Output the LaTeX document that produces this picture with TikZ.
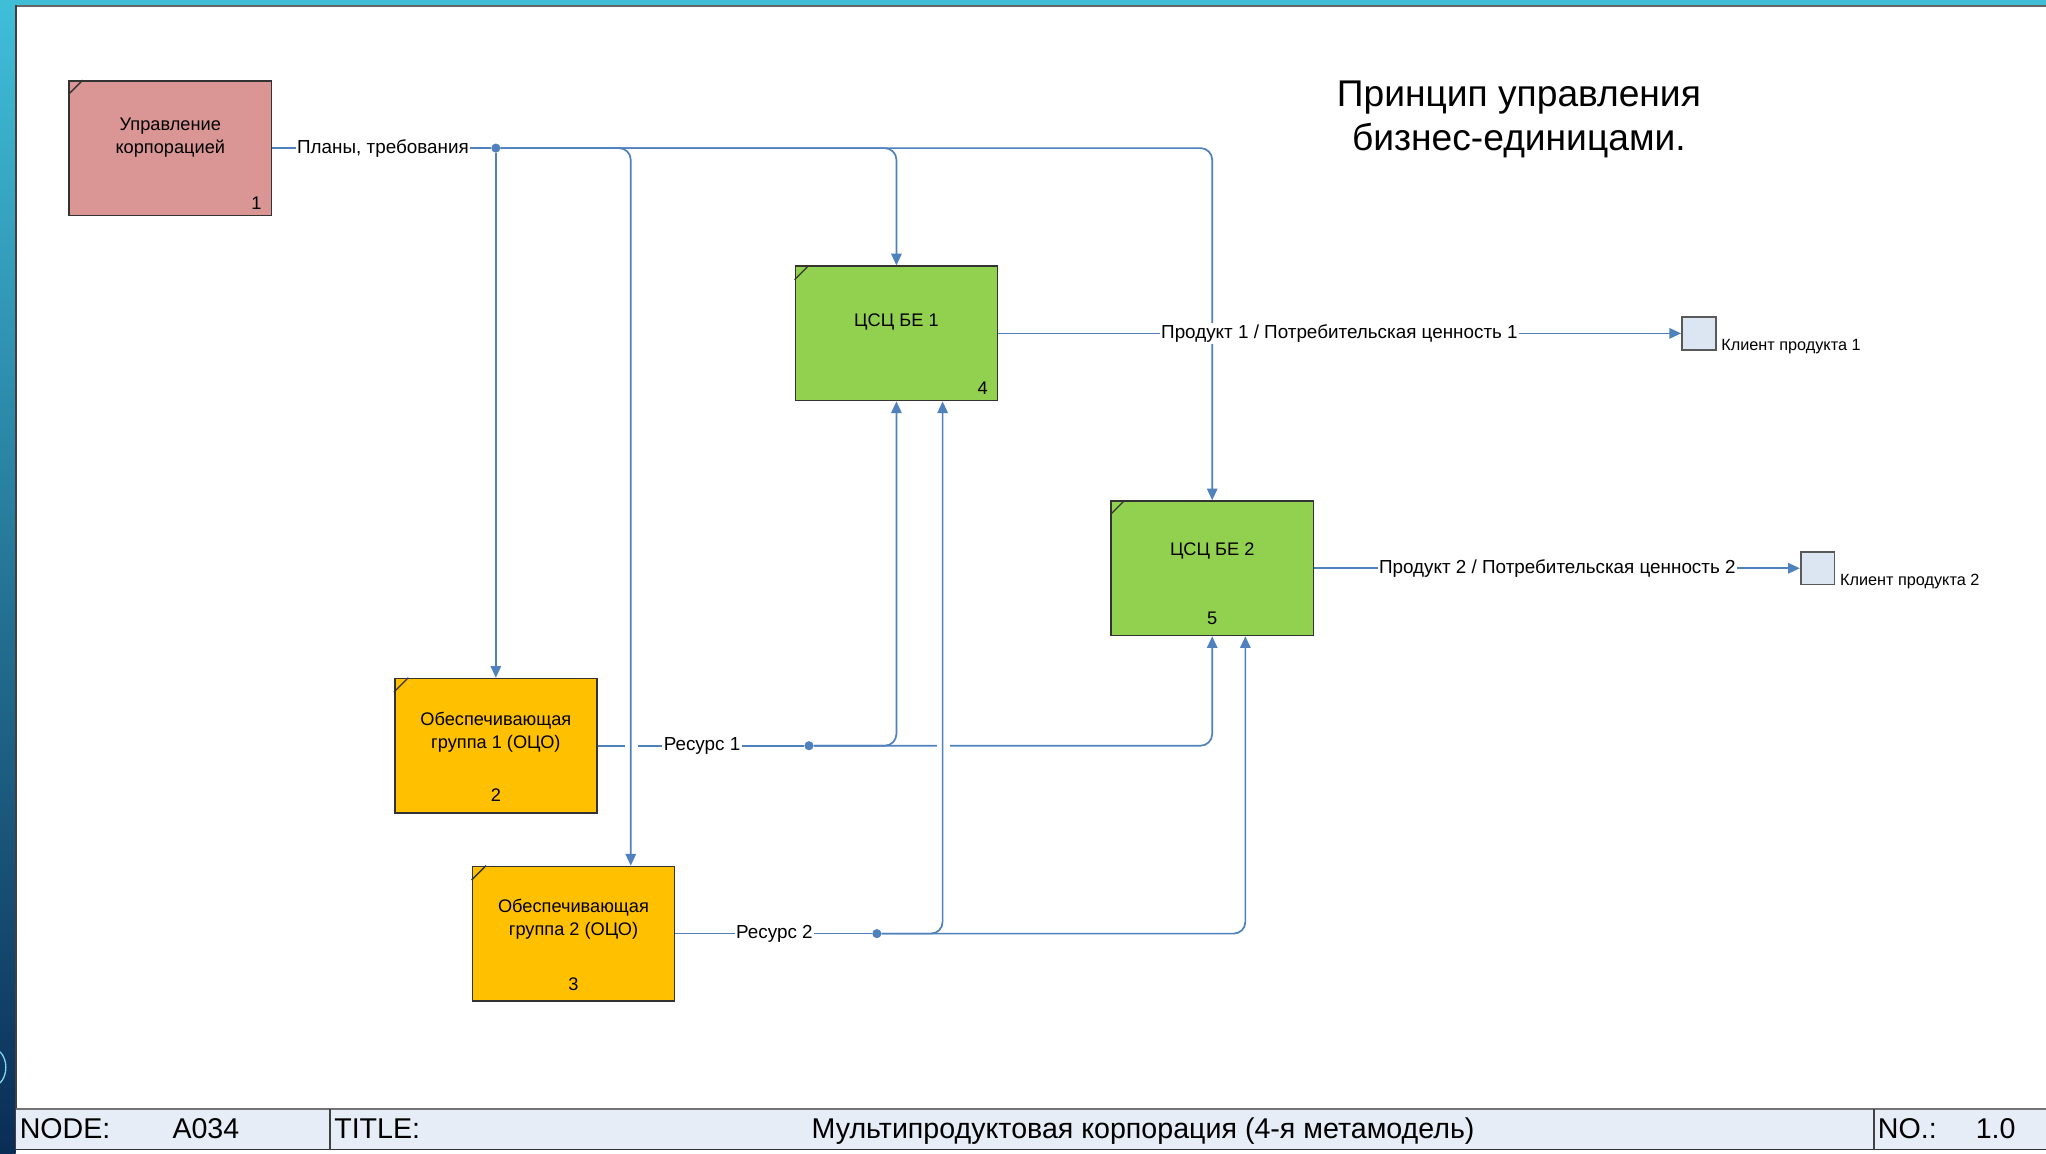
\documentclass[tikz,border=0pt]{standalone}
\usepackage{fontspec}
\setmainfont{Liberation Sans}
\usetikzlibrary{arrows.meta,calc}
\definecolor{flowblue}{RGB}{79,129,189}
\definecolor{mgmt}{RGB}{217,150,148}
\definecolor{bgreen}{RGB}{146,208,80}
\definecolor{borange}{RGB}{255,192,0}
\definecolor{clientfill}{RGB}{220,230,242}
\definecolor{footfill}{RGB}{230,237,247}
\definecolor{slidecyan}{RGB}{64,190,216}
\definecolor{slidenavy}{RGB}{10,45,85}
\begin{document}
\begin{tikzpicture}[x=1bp,y=-1bp,
  boxbase/.style={draw=black!80, line width=1.2bp, minimum width=155bp, minimum height=103bp, inner sep=0pt},
  btext/.style={align=center, font=\fontsize{14}{18}\selectfont, inner sep=0pt},
  numf/.style={font=\fontsize{14}{16}\selectfont, inner sep=0pt},
  flow/.style={draw=flowblue, line width=1.3bp, rounded corners=9bp},
  arr/.style={-{Triangle[length=9bp,width=8bp]}},
  lbl/.style={fill=white, inner sep=1bp, font=\fontsize{14.5}{17}\selectfont},
  dotn/.style={circle, fill=flowblue, inner sep=0pt, minimum size=7bp},
  client/.style={draw=black!65, fill=clientfill, line width=1.3bp, minimum width=26bp, minimum height=25bp, inner sep=0pt},
  clbl/.style={inner sep=0pt, font=\fontsize{12.5}{14}\selectfont},
  foot/.style={inner sep=0pt, font=\fontsize{22}{24}\selectfont}
]
\useasboundingbox (0,0) rectangle (1568,884);
% slide background and frame
\fill[white] (0,0) rectangle (1568,884);
\shade[top color=slidecyan, bottom color=slidenavy] (0,0) rectangle (12,884);
\fill[slidecyan] (0,0) rectangle (1568,3.5);
\draw[cyan!50, line width=1bp] (0,806) .. controls (6,812) and (6,824) .. (0,830);
\draw[black!60, line width=1.8bp] (12,4.8) -- (1568,4.8);
\draw[black!75, line width=1.3bp] (12.5,4) -- (12.5,881);

% title
\node[align=center, font=\fontsize{28.6}{34}\selectfont, inner sep=0pt] (title) at (1164,91.5) {Принцип управления\\бизнес-единицами.};

% boxes
\node[boxbase, fill=mgmt] (b1) at (130.5,113.5) {};
\node[boxbase, fill=bgreen] (b4) at (687,255.5) {};
\node[boxbase, fill=bgreen] (b5) at (929,435.5) {};
\node[boxbase, fill=borange] (b2) at (380,571.5) {};
\node[boxbase, fill=borange] (b3) at (439.5,715.5) {};
\foreach \b in {b1,b4,b5,b2,b3}{
  \draw[black!80, line width=1bp] (\b.north west) ++(0,11) -- ++(11,-11);
}
\node[btext] (t1) at ([yshift=8bp]b1.center) {Управление\\корпорацией};
\node[btext] (t4) at ([yshift=8.5bp]b4.center) {ЦСЦ БЕ 1};
\node[btext] (t5) at ([yshift=13bp]b5.center) {ЦСЦ БЕ 2};
\node[btext] (t2) at ([yshift=10.5bp]b2.center) {Обеспечивающая\\группа 1 (ОЦО)};
\node[btext] (t3) at ([yshift=11bp]b3.center) {Обеспечивающая\\группа 2 (ОЦО)};
\node[numf] (n1) at ([xshift=-12bp,yshift=10bp]b1.south east) {1};
\node[numf] (n4) at ([xshift=-12bp,yshift=10bp]b4.south east) {4};
\node[numf] (n5) at ([yshift=14bp]b5.south) {5};
\node[numf] (n2) at ([yshift=14bp]b2.south) {2};
\node[numf] (n3) at ([yshift=13bp]b3.south) {3};

% clients
\node[client] (c1) at (1302,255.5) {};
\node[client] (c2) at (1393,435.5) {};
\node[clbl, anchor=west] (c1l) at (1319,265.5) {Клиент продукта 1};
\node[clbl, anchor=west] (c2l) at (1410,445.5) {Клиент продукта 2};

% Resource 1
\node[lbl] (r1l) at (538,571.5) {Ресурс 1};
\node[dotn] (rd1) at (620,571.5) {};
\draw[flow] (b2.east) -- (r1l.west);
\draw[flow] (r1l.east) -- (rd1);
\draw[flow,arr] (rd1) -| (b4.south);
\draw[flow,arr] (rd1) -| (b5.south);
\fill[white] (479,568) rectangle (489,575);
\fill[white] (718,568) rectangle (728,575);

% Plans
\node[lbl] (pl) at (293.5,113.5) {Планы, требования};
\node[dotn] (d1) at (380,113.5) {};
\draw[flow] (b1.east) -- (pl.west);
\draw[flow] (pl.east) -- (d1);
\draw[flow,arr] (d1) -- (b2.north);
\draw[flow,arr] (d1) -| ([xshift=122bp]b3.north west);
\draw[flow,arr] (d1) -| (b4.north);
\draw[flow,arr] (d1) -| (b5.north);

% Resource 2
\node[lbl] (r2l) at (593.5,715.5) {Ресурс 2};
\node[dotn] (rd2) at (672,715.5) {};
\draw[flow] (b3.east) -- (r2l.west);
\draw[flow] (r2l.east) -- (rd2);
\draw[flow,arr] (rd2) -| ([xshift=113.5bp]b4.south west);
\draw[flow,arr] (rd2) -| ([xshift=103.5bp]b5.south west);

% Products
\node[lbl] (p1) at (1026.5,255.5) {Продукт 1 / Потребительская ценность 1};
\draw[flow] (b4.east) -- (p1.west);
\draw[flow,arr] (p1.east) -- (c1.west);
\node[lbl] (p2) at (1193.5,435.5) {Продукт 2 / Потребительская ценность 2};
\draw[flow] (b5.east) -- (p2.west);
\draw[flow,arr] (p2.east) -- (c2.west);

% footer
\fill[footfill] (12.5,850) rectangle (1568,881);
\draw[black!55, line width=2bp] (12.5,850) -- (1568,850);
\draw[black!80, line width=1.3bp] (12.5,881) -- (1568,881);
\draw[black!75, line width=1.2bp] (253,850) -- (253,881);
\draw[black!75, line width=1.2bp] (1436,850) -- (1436,881);
\node[foot, anchor=base west] (fnode) at (15,872.5) {NODE:};
\node[foot, anchor=base west] (fnodev) at (132,872.5) {A034};
\node[foot, anchor=base west] (ftitle) at (256,872.5) {TITLE:};
\node[foot, anchor=base] (ftitlev) at (876,872.5) {Мультипродуктовая корпорация (4-я метамодель)};
\node[foot, anchor=base west] (fno) at (1439,872.5) {NO.:};
\node[foot, anchor=base west] (fnov) at (1514,872.5) {1.0};
\end{tikzpicture}
\end{document}
